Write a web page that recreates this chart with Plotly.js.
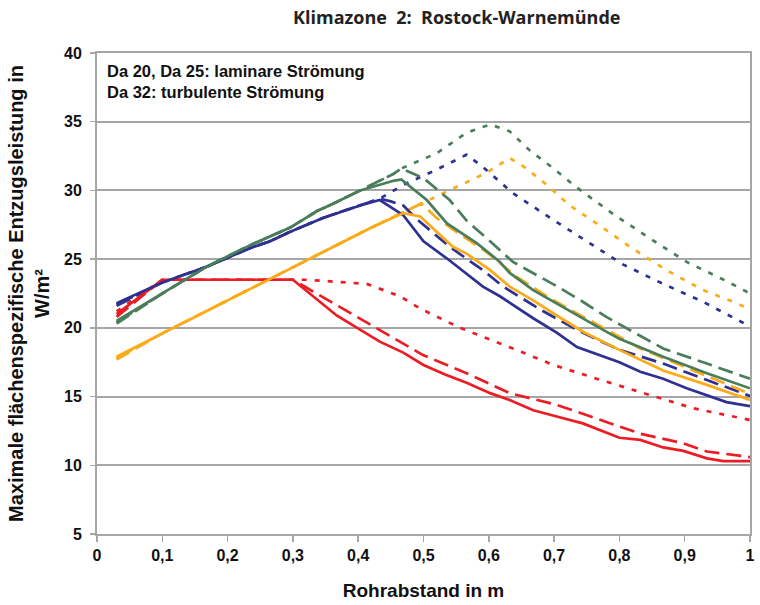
<!DOCTYPE html>
<html>
<head>
<meta charset="utf-8">
<script src="https://cdn.plot.ly/plotly-3.0.1.min.js"></script>
<style>html,body{margin:0;padding:0;background:#fff;}#chart{width:760px;height:605px;}</style>
</head>
<body>
<div id="chart"></div>
<script>
// Rohrabstand (m) and Entzugsleistung (W/m²) per series
var redSolidX = [0.03, 0.1, 0.3, 0.367, 0.433, 0.469, 0.5, 0.533, 0.566, 0.602, 0.632, 0.668, 0.704, 0.744, 0.8, 0.832, 0.867, 0.898, 0.934, 0.959, 1.0];
var redSolidY = [21.0, 23.5, 23.5, 20.9, 19.0, 18.2, 17.3, 16.6, 16.0, 15.25, 14.75, 14.0, 13.55, 13.05, 12.0, 11.85, 11.3, 11.05, 10.5, 10.3, 10.3];
var redDashX = [0.03, 0.1, 0.3, 0.336, 0.433, 0.5, 0.566, 0.632, 0.704, 0.765, 0.832, 0.898, 0.934, 1.0];
var redDashY = [20.8, 23.5, 23.5, 22.5, 19.85, 18.0, 16.7, 15.25, 14.4, 13.4, 12.3, 11.6, 11.0, 10.6];
var redDotX = [0.03, 0.1, 0.3, 0.321, 0.413, 0.464, 0.495, 0.556, 0.637, 0.699, 0.765, 0.847, 0.913, 1.0];
var redDotY = [21.2, 23.5, 23.5, 23.5, 23.2, 22.3, 21.4, 20.0, 18.5, 17.3, 16.3, 15.1, 14.15, 13.3];

var blueSolidX = [0.03, 0.1, 0.168, 0.234, 0.265, 0.296, 0.346, 0.403, 0.433, 0.469, 0.5, 0.54, 0.591, 0.617, 0.668, 0.704, 0.735, 0.77, 0.8, 0.832, 0.867, 0.903, 0.934, 0.964, 1.0];
var blueSolidY = [21.8, 23.3, 24.45, 25.8, 26.3, 27.0, 28.0, 28.9, 29.3, 28.2, 26.3, 24.9, 23.0, 22.3, 20.7, 19.65, 18.6, 18.0, 17.5, 16.8, 16.3, 15.6, 15.1, 14.6, 14.3];
var blueDashX = [0.03, 0.1, 0.168, 0.234, 0.265, 0.296, 0.346, 0.403, 0.433, 0.45, 0.469, 0.49, 0.52, 0.54, 0.591, 0.622, 0.68, 0.735, 0.8, 0.867, 0.934, 1.0];
var blueDashY = [21.6, 23.3, 24.45, 25.8, 26.3, 27.0, 28.0, 28.9, 29.4, 29.2, 28.9, 27.9, 26.7, 25.9, 24.2, 23.0, 21.3, 19.85, 18.4, 17.4, 16.2, 15.05];
var blueDotX = [0.03, 0.1, 0.168, 0.234, 0.265, 0.296, 0.346, 0.403, 0.433, 0.469, 0.515, 0.566, 0.591, 0.637, 0.694, 0.75, 0.806, 0.867, 0.928, 1.0];
var blueDotY = [21.7, 23.3, 24.45, 25.8, 26.3, 27.0, 28.0, 28.9, 29.4, 30.4, 31.4, 32.6, 31.7, 29.8, 28.0, 26.3, 24.6, 23.2, 21.9, 20.1];

var greenSolidX = [0.03, 0.1, 0.168, 0.234, 0.296, 0.337, 0.36, 0.403, 0.454, 0.466, 0.505, 0.536, 0.582, 0.617, 0.632, 0.668, 0.704, 0.74, 0.775, 0.8, 0.867, 0.934, 1.0];
var greenSolidY = [20.5, 22.5, 24.45, 26.0, 27.3, 28.5, 29.0, 30.0, 30.7, 30.8, 29.3, 27.6, 26.15, 24.8, 24.0, 22.75, 21.8, 20.8, 19.85, 19.2, 17.9, 16.7, 15.6];
var greenDashX = [0.03, 0.1, 0.168, 0.234, 0.296, 0.337, 0.36, 0.403, 0.454, 0.466, 0.5, 0.54, 0.566, 0.602, 0.637, 0.673, 0.709, 0.744, 0.78, 0.821, 0.867, 0.934, 1.0];
var greenDashY = [20.3, 22.5, 24.45, 26.0, 27.3, 28.5, 29.0, 30.0, 31.2, 31.6, 30.9, 29.3, 27.8, 26.3, 24.8, 23.85, 22.9, 21.9, 20.8, 19.7, 18.5, 17.4, 16.3];
var greenDotX = [0.03, 0.1, 0.168, 0.234, 0.296, 0.337, 0.36, 0.403, 0.454, 0.466, 0.52, 0.566, 0.602, 0.632, 0.663, 0.699, 0.735, 0.79, 0.847, 0.903, 0.964, 1.0];
var greenDotY = [20.4, 22.5, 24.45, 26.0, 27.3, 28.5, 29.0, 30.0, 31.2, 31.6, 32.7, 34.2, 34.8, 34.3, 32.9, 31.6, 30.2, 28.3, 26.5, 24.8, 23.4, 22.5];

var orangeSolidX = [0.03, 0.1, 0.2, 0.3, 0.418, 0.469, 0.495, 0.52, 0.545, 0.566, 0.602, 0.632, 0.668, 0.704, 0.745, 0.8, 0.867, 0.934, 1.0];
var orangeSolidY = [17.9, 19.6, 22.0, 24.4, 27.25, 28.35, 28.1, 27.0, 25.9, 25.4, 24.2, 23.0, 22.0, 20.9, 19.7, 18.4, 16.9, 15.85, 14.75];
var orangeDashX = [0.03, 0.1, 0.2, 0.3, 0.418, 0.497, 0.52, 0.55, 0.597, 0.643, 0.694, 0.745, 0.832, 0.898, 1.0];
var orangeDashY = [17.7, 19.6, 22.0, 24.4, 27.25, 29.05, 28.0, 27.0, 25.5, 23.7, 22.15, 20.8, 18.5, 17.2, 15.2];
var orangeDotX = [0.03, 0.1, 0.2, 0.3, 0.418, 0.497, 0.53, 0.571, 0.597, 0.632, 0.653, 0.689, 0.724, 0.765, 0.816, 0.872, 0.928, 0.974, 1.0];
var orangeDotY = [17.8, 19.6, 22.0, 24.4, 27.25, 29.05, 29.8, 30.7, 31.3, 32.35, 31.75, 30.4, 28.9, 27.6, 25.9, 24.2, 22.75, 21.9, 21.35];

var xTickVals = [0, 0.1, 0.2, 0.3, 0.4, 0.5, 0.6, 0.7, 0.8, 0.9, 1];
var yTickVals = [5, 10, 15, 20, 25, 30, 35, 40];

var RED = '#ec1c24', BLUE = '#2e3192', GREEN = '#4a7d5a', ORANGE = '#fbab18';
var DASH = '15px,7px', DOT = '5px,8px';

function tr(x, y, color, dash) {
  return {x: x, y: y, type: 'scatter', mode: 'lines', hoverinfo: 'skip',
    line: {color: color, width: 2.7, dash: dash}};
}

var data = [
  tr(redDotX, redDotY, RED, DOT),
  tr(blueDotX, blueDotY, BLUE, DOT),
  tr(greenDotX, greenDotY, GREEN, DOT),
  tr(orangeDotX, orangeDotY, ORANGE, DOT),
  tr(redDashX, redDashY, RED, DASH),
  tr(blueDashX, blueDashY, BLUE, DASH),
  tr(greenDashX, greenDashY, GREEN, DASH),
  tr(orangeDashX, orangeDashY, ORANGE, DASH),
  tr(redSolidX, redSolidY, RED, 'solid'),
  tr(blueSolidX, blueSolidY, BLUE, 'solid'),
  tr(greenSolidX, greenSolidY, GREEN, 'solid'),
  tr(orangeSolidX, orangeSolidY, ORANGE, 'solid')
];

var SANS = 'Liberation Sans, Arial, sans-serif';
var tickFont = {family: SANS, size: 16, color: '#111', weight: 'bold'};

var layout = {
  width: 760, height: 605,
  margin: {l: 97, r: 10, t: 53, b: 71},
  paper_bgcolor: '#fff', plot_bgcolor: '#fff',
  showlegend: false,
  separators: ',.',
  title: {
    text: 'Klimazone  2:  Rostock-Warnemünde',
    font: {family: 'Open Sans, sans-serif', size: 18, color: '#222', weight: 'bold'},
    x: 0.601, xref: 'container', xanchor: 'center',
    y: 0.97, yref: 'container', yanchor: 'middle'
  },
  xaxis: {
    range: [0, 1], tickvals: xTickVals,
    showgrid: false, zeroline: false,
    showline: true, linecolor: '#a6a6a6', linewidth: 2, mirror: true,
    ticks: 'outside', ticklen: 6, tickcolor: '#a6a6a6', tickwidth: 1.5,
    tickfont: tickFont,
    title: {text: 'Rohrabstand in m', standoff: 20,
      font: {family: SANS, size: 19, color: '#111', weight: 'bold'}}
  },
  yaxis: {
    range: [5, 40], tickvals: yTickVals,
    showgrid: true, gridcolor: '#a6a6a6', gridwidth: 2, zeroline: false,
    showline: true, linecolor: '#a6a6a6', linewidth: 2, mirror: true,
    ticks: 'outside', ticklen: 5, tickcolor: '#a6a6a6', tickwidth: 1.5,
    ticklabelstandoff: 5,
    tickfont: tickFont,
    title: {text: 'Maximale flächenspezifische Entzugsleistung in<br>W/m²', standoff: 9,
      font: {family: SANS, size: 20, color: '#111', weight: 'bold'}}
  },
  annotations: [{
    text: 'Da 20, Da 25: laminare Strömung<br>Da 32: turbulente Strömung',
    xref: 'paper', yref: 'paper', x: 0.012, y: 0.985, xanchor: 'left', yanchor: 'top',
    align: 'left', showarrow: false,
    font: {family: SANS, size: 16.5, color: '#111', weight: 'bold'}
  }]
};

Plotly.newPlot('chart', data, layout, {displayModeBar: false, staticPlot: true});
</script>
</body>
</html>
